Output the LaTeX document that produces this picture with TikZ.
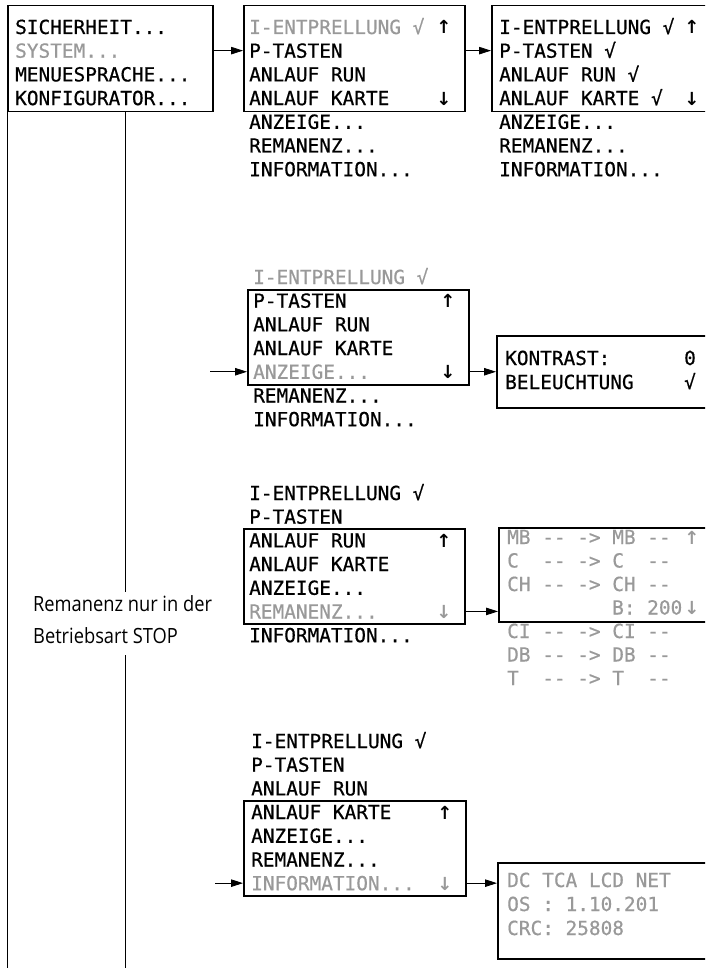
\documentclass[tikz,border=0pt]{standalone}
\usepackage{fontspec}
\newfontfamily\lcdfont[Ligatures=TeXOff, FakeBold=0.6]{DejaVu Sans Mono}
\newfontfamily\scrollfont{DejaVu Sans Bold}
\newfontfamily\notefont[FakeStretch=0.87]{Open Sans}
\usetikzlibrary{arrows.meta}
\definecolor{lcdgray}{gray}{0.6}

\begin{document}
\begin{tikzpicture}[x=1pt, y=-1pt,
  lcd/.style={font=\lcdfont\fontsize{19.4}{23}\selectfont, anchor=base west, inner sep=0pt},
  val/.style={lcd, anchor=base},
  scroll/.style={font=\scrollfont\fontsize{18}{23}\selectfont, anchor=base, inner sep=0pt},
  dim/.style={text=lcdgray},
  menubox/.style={draw, line width=1.5pt, inner sep=0pt, anchor=north west},
  conn/.style={line width=0.8pt, -{Triangle[length=12pt, width=7.5pt]}},
  plain/.style={line width=0.8pt}]
  \clip (0,0) rectangle (705,973);
  % Main menu
  \node[menubox, minimum width=205pt, minimum height=106pt] (lbox) at (7,5) {};
  \node[lcd] (l1) at (15,34) {SICHERHEIT...};
  \node[lcd, dim] (l2) at (15,57.7) {SYSTEM...};
  \node[lcd] (l3) at (15,81.4) {MENUESPRACHE...};
  \node[lcd] (l4) at (15,105.1) {KONFIGURATOR...};
  % Left guide lines
  \coordinate (bot) at (0,968);
  \coordinate (gapA) at (125,592);
  \coordinate (gapB) at (125,655);
  \draw[plain] (lbox.south west) -- (lbox.south west |- bot);
  \draw[plain] (lbox.south -| gapA) -- (gapA);
  \draw[plain] (gapB) -- (gapB |- bot);
  \node[font=\notefont\fontsize{21}{32}\selectfont, align=left, anchor=north west, inner sep=0pt]
    (note) at (33,595) {Remanenz nur in der\\Betriebsart STOP};

  % Parameter list, top
  \node[menubox, minimum width=221pt, minimum height=106pt] (mbox) at (243,5) {};
  \node[lcd, dim] (m1) at (249,34) {I-ENTPRELLUNG √};
  \node[scroll] (mup) at (444,34) {↑};
  \node[lcd] (m2) at (249,57.7) {P-TASTEN};
  \node[lcd] (m3) at (249,81.4) {ANLAUF RUN};
  \node[lcd] (m4) at (249,105.1) {ANLAUF KARTE};
  \node[scroll] (mdn) at (444,105.1) {↓};
  \node[lcd] (m5) at (249,128.8) {ANZEIGE...};
  \node[lcd] (m6) at (249,152.5) {REMANENZ...};
  \node[lcd] (m7) at (249,176.2) {INFORMATION...};
  \draw[conn] (lbox.east |- m2) -- (mbox.west |- m2);

  % All options set
  \node[menubox, minimum width=260pt, minimum height=106pt] (rbox) at (491,5) {};
  \node[lcd] (r1) at (499,34) {I-ENTPRELLUNG √};
  \node[scroll] (rup) at (692,34) {↑};
  \node[lcd] (r2) at (499,57.7) {P-TASTEN √};
  \node[lcd] (r3) at (499,81.4) {ANLAUF RUN √};
  \node[lcd] (r4) at (499,105.1) {ANLAUF KARTE √};
  \node[scroll] (rdn) at (692,105.1) {↓};
  \node[lcd] (r5) at (499,128.8) {ANZEIGE...};
  \node[lcd] (r6) at (499,152.5) {REMANENZ...};
  \node[lcd] (r7) at (499,176.2) {INFORMATION...};
  \draw[conn] (mbox.east |- m2) -- (rbox.west |- m2);

  % Display
  \node[menubox, minimum width=221pt, minimum height=95pt] (box2) at (247,289) {};
  \node[lcd, dim] (a1) at (253,284) {I-ENTPRELLUNG √};
  \node[lcd] (a2) at (253,307.7) {P-TASTEN};
  \node[scroll] (aup) at (448,307.7) {↑};
  \node[lcd] (a3) at (253,331.4) {ANLAUF RUN};
  \node[lcd] (a4) at (253,355.1) {ANLAUF KARTE};
  \node[lcd, dim] (a5) at (253,378.8) {ANZEIGE...};
  \node[scroll] (adn) at (448,378.8) {↓};
  \node[lcd] (a6) at (253,402.5) {REMANENZ...};
  \node[lcd] (a7) at (253,426.2) {INFORMATION...};
  \coordinate (in2) at (210,0);
  \draw[conn] (in2 |- a5) -- (box2.west |- a5);

  \node[menubox, minimum width=260pt, minimum height=72pt] (disp) at (496,335) {};
  \node[lcd] (d1) at (505,365) {KONTRAST:};
  \node[val] (d1v) at (690,365) {0};
  \node[lcd] (d2) at (505,389) {BELEUCHTUNG};
  \node[val] (d2v) at (690,389) {√};
  \draw[conn] (box2.east |- a5) -- (disp.west |- a5);

  % Retention
  \node[menubox, minimum width=221pt, minimum height=95pt] (box3) at (243,528) {};
  \node[lcd] (b1) at (249,500) {I-ENTPRELLUNG √};
  \node[lcd] (b2) at (249,523.7) {P-TASTEN};
  \node[lcd] (b3) at (249,547.4) {ANLAUF RUN};
  \node[scroll] (bup) at (444,547.4) {↑};
  \node[lcd] (b4) at (249,571.1) {ANLAUF KARTE};
  \node[lcd] (b5) at (249,594.8) {ANZEIGE...};
  \node[lcd, dim] (b6) at (249,618.5) {REMANENZ...};
  \node[scroll, dim] (bdn) at (444,618.5) {↓};
  \node[lcd] (b7) at (249,642.2) {INFORMATION...};

  \node[menubox, minimum width=260pt, minimum height=94pt] (data) at (498,527) {};
  \node[lcd, dim] (e1) at (507,544) {MB -- -> MB --};
  \node[scroll, dim] (eup) at (692,544) {↑};
  \node[lcd, dim] (e2) at (507,567.5) {C~~--~->~C~~--};
  \node[lcd, dim] (e3) at (507,591) {CH -- -> CH --};
  \node[lcd, dim] (e4) at (612,614.5) {B:~200};
  \node[scroll, dim] (edn) at (692,614.5) {↓};
  \node[lcd, dim] (e5) at (507,638) {CI -- -> CI --};
  \node[lcd, dim] (e6) at (507,661.5) {DB -- -> DB --};
  \node[lcd, dim] (e7) at (507,685) {T~~--~->~T~~--};
  \draw[conn] (box3.east |- b6) -- (data.west |- b6);

  % Information
  \node[menubox, minimum width=222pt, minimum height=95pt] (box4) at (243,800) {};
  \node[lcd] (c1) at (251,748) {I-ENTPRELLUNG √};
  \node[lcd] (c2) at (251,771.7) {P-TASTEN};
  \node[lcd] (c3) at (251,795.4) {ANLAUF RUN};
  \node[lcd] (c4) at (251,819.1) {ANLAUF KARTE};
  \node[scroll] (cup) at (445,819.1) {↑};
  \node[lcd] (c5) at (251,842.8) {ANZEIGE...};
  \node[lcd] (c6) at (251,866.5) {REMANENZ...};
  \node[lcd, dim] (c7) at (251,890.2) {INFORMATION...};
  \node[scroll, dim] (cdn) at (445,890.2) {↓};
  \coordinate (in4) at (215,0);
  \draw[conn] (in4 |- c7) -- (box4.west |- c7);

  \node[menubox, minimum width=260pt, minimum height=96pt] (info) at (497,862) {};
  \node[lcd, dim] (f1) at (507,887) {DC TCA LCD NET};
  \node[lcd, dim] (f2) at (507,911) {OS : 1.10.201};
  \node[lcd, dim] (f3) at (507,935) {CRC: 25808};
  \draw[conn] (box4.east |- c7) -- (info.west |- c7);
\end{tikzpicture}
\end{document}
